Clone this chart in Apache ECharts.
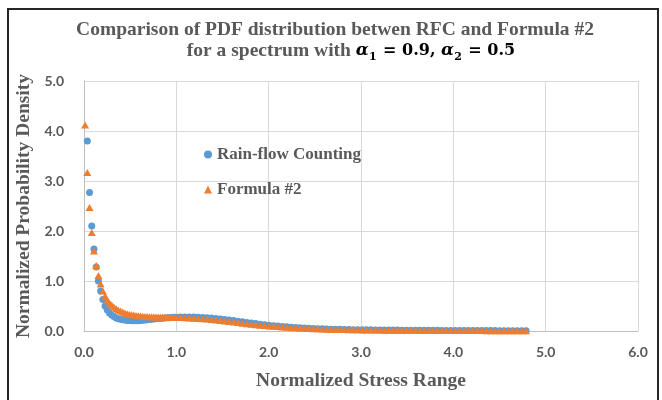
<!DOCTYPE html>
<html>
<head>
<meta charset="utf-8">
<script src="https://cdn.jsdelivr.net/npm/echarts@6/dist/echarts.min.js"></script>
<style>
html,body{margin:0;padding:0;background:#fff;}
#chart{width:662px;height:400px;}
</style>
</head>
<body>
<div id="chart"></div>
<script>
// Normalized stress range (x positions of the points)
var stressRange = [
0.012,0.036,0.060,0.084,0.108,0.132,0.156,0.180,0.204,0.228,
0.252,0.276,0.300,0.324,0.348,0.372,0.396,0.420,0.444,0.468,
0.492,0.516,0.540,0.564,0.588,0.612,0.636,0.660,0.684,0.708,
0.732,0.756,0.780,0.804,0.828,0.852,0.876,0.900,0.924,0.948,
0.972,0.996,
1.044,1.092,1.140,1.188,1.236,1.284,1.332,1.380,1.428,1.476,
1.524,1.572,1.620,1.668,1.716,1.764,1.812,1.860,1.908,1.956,
2.004,2.052,2.100,2.148,2.196,2.244,2.292,2.340,2.388,2.436,
2.484,2.532,2.580,2.628,2.676,2.724,2.772,2.820,2.868,2.916,
2.964,3.012,3.060,3.108,3.156,3.204,3.252,3.300,3.348,3.396,
3.444,3.492,3.540,3.588,3.636,3.684,3.732,3.780,3.828,3.876,
3.924,3.972,4.020,4.068,4.116,4.164,4.212,4.260,4.308,4.356,
4.404,4.452,4.500,4.548,4.596,4.644,4.692,4.740,4.788
];
// Rain-flow Counting
var rfcDensity = [
null,3.80,2.77,2.10,1.64,1.28,1.00,0.80,0.63,0.50,
0.42,0.36,0.32,0.29,0.26,0.245,0.235,0.225,0.218,0.212,
0.208,0.205,0.204,0.205,0.207,0.21,0.214,0.218,0.223,0.228,
0.233,0.238,0.243,0.248,0.252,0.256,0.26,0.264,0.267,0.27,
0.273,0.275,
0.28,0.28,0.28,0.28,0.275,0.27,0.265,0.26,0.25,0.24,
0.23,0.22,0.21,0.195,0.185,0.172,0.16,0.148,0.137,0.126,
0.115,0.106,0.098,0.09,0.083,0.076,0.07,0.064,0.059,0.054,
0.05,0.046,0.043,0.04,0.037,0.035,0.033,0.031,0.029,0.027,
0.026,0.025,0.024,0.023,0.022,0.021,0.02,0.019,0.018,0.018,
0.017,0.016,0.016,0.015,0.015,0.014,0.014,0.013,0.013,0.012,
0.012,0.011,0.011,0.01,0.01,0.01,0.009,0.009,0.009,0.008,
0.008,0.008,0.007,0.007,0.007,0.006,0.006,0.006,0.005
];
// Formula #2
var formulaDensity = [
4.12,3.17,2.47,1.97,1.60,1.31,1.11,0.94,0.80,0.70,
0.62,0.56,0.52,0.48,0.45,0.42,0.40,0.38,0.36,0.345,
0.335,0.325,0.318,0.312,0.306,0.30,0.296,0.292,0.29,0.287,
0.285,0.283,0.281,0.28,0.279,0.278,0.277,0.276,0.275,0.274,
0.273,0.272,
0.27,0.265,0.26,0.255,0.25,0.245,0.24,0.23,0.22,0.21,
0.20,0.19,0.18,0.168,0.157,0.146,0.136,0.126,0.117,0.108,
0.10,0.094,0.088,0.082,0.076,0.07,0.065,0.06,0.055,0.051,
0.047,0.043,0.04,0.037,0.034,0.032,0.03,0.028,0.026,0.025,
0.023,0.022,0.021,0.02,0.019,0.018,0.017,0.017,0.016,0.015,
0.015,0.014,0.014,0.013,0.013,0.012,0.012,0.011,0.011,0.011,
0.01,0.01,0.01,0.009,0.009,0.009,0.008,0.008,0.008,0.007,
0.007,0.007,0.006,0.006,0.006,0.005,0.005,0.005,0.004
];
var seriesNames = ['Rain-flow Counting', 'Formula #2'];

var rfcData = stressRange.map(function (x, i) { return [x, rfcDensity[i]]; });
var formulaData = stressRange.map(function (x, i) { return [x, formulaDensity[i]]; });

var serif = '"Liberation Serif","Times New Roman",serif';
var gray = '#595959';

var chart = echarts.init(document.getElementById('chart'), null, {renderer: 'canvas'});
chart.setOption({
  animation: false,
  backgroundColor: '#fff',
  grid: {left: 84, right: 24, top: 81, bottom: 69, containLabel: false},
  legend: {
    orient: 'vertical',
    left: 199, top: 141,
    itemWidth: 8, itemHeight: 8, itemGap: 18,
    textStyle: {fontFamily: serif, fontWeight: 'bold', fontSize: 17, color: gray},
    data: [{name: seriesNames[0], icon: 'circle'}, {name: seriesNames[1], icon: 'triangle'}]
  },
  xAxis: {
    type: 'value', min: 0, max: 6, interval: 1,
    name: 'Normalized Stress Range', nameLocation: 'middle', nameGap: 40,
    nameTextStyle: {fontFamily: serif, fontWeight: 'bold', fontSize: 19.5, color: gray},
    axisLine: {show: true, lineStyle: {color: '#BFBFBF', width: 1}},
    axisTick: {show: false},
    splitLine: {show: true, lineStyle: {color: '#D9D9D9', width: 1}},
    axisLabel: {margin: 14, fontFamily: 'Lato', fontWeight: 'bold', fontSize: 14, color: gray,
      formatter: function (v) { return v.toFixed(1); }}
  },
  yAxis: {
    type: 'value', min: 0, max: 5, interval: 1,
    name: 'Normalized Probability Density', nameLocation: 'middle', nameGap: 36, nameRotate: 90,
    nameTextStyle: {fontFamily: serif, fontWeight: 'bold', fontSize: 19.5, color: gray},
    axisLine: {show: true, lineStyle: {color: '#BFBFBF', width: 1}},
    axisTick: {show: false},
    splitLine: {show: true, lineStyle: {color: '#D9D9D9', width: 1}},
    axisLabel: {margin: 20, fontFamily: 'Lato', fontWeight: 'bold', fontSize: 14, color: gray,
      formatter: function (v) { return v.toFixed(1); }}
  },
  series: [
    {name: seriesNames[0], type: 'scatter', symbol: 'circle', symbolSize: 7,
      itemStyle: {color: '#5B9BD5', opacity: 1}, data: rfcData, z: 2},
    {name: seriesNames[1], type: 'scatter', symbol: 'triangle', symbolSize: [8, 7],
      itemStyle: {color: '#ED7D31', opacity: 1}, data: formulaData, z: 3}
  ],
  graphic: [
    {type: 'rect', shape: {x: 8, y: 9, width: 650, height: 400},
      style: {fill: 'none', stroke: '#262626', lineWidth: 2}, silent: true, z: 100},
    {type: 'text', x: 335, y: 30, style: {
      text: 'Comparison of PDF distribution betwen RFC and Formula #2',
      font: 'bold 19.5px ' + serif, fill: gray, textAlign: 'center', textVerticalAlign: 'middle'}},
    {type: 'text', x: 351, y: 51, style: {
      text: '{g|for a spectrum with }{a|α}{s|1}{m| = 0.9, }{a|α}{s|2}{m| = 0.5}',
      textAlign: 'center', textVerticalAlign: 'middle',
      rich: {
        g: {fontFamily: serif, fontWeight: 'bold', fontSize: 19.5, fill: gray, lineHeight: 24, verticalAlign: 'middle'},
        a: {fontFamily: '"DejaVu Serif",serif', fontStyle: 'italic', fontWeight: 'bold', fontSize: 17, fill: '#000', lineHeight: 24, verticalAlign: 'middle'},
        s: {fontFamily: '"DejaVu Serif",serif', fontWeight: 'bold', fontSize: 11, fill: '#000', lineHeight: 24, verticalAlign: 'bottom', padding: [0, 1, 0, 0]},
        m: {fontFamily: '"DejaVu Serif",serif', fontWeight: 'bold', fontSize: 16, fill: '#000', lineHeight: 24, verticalAlign: 'middle'}
      }}}
  ]
});
</script>
</body>
</html>
